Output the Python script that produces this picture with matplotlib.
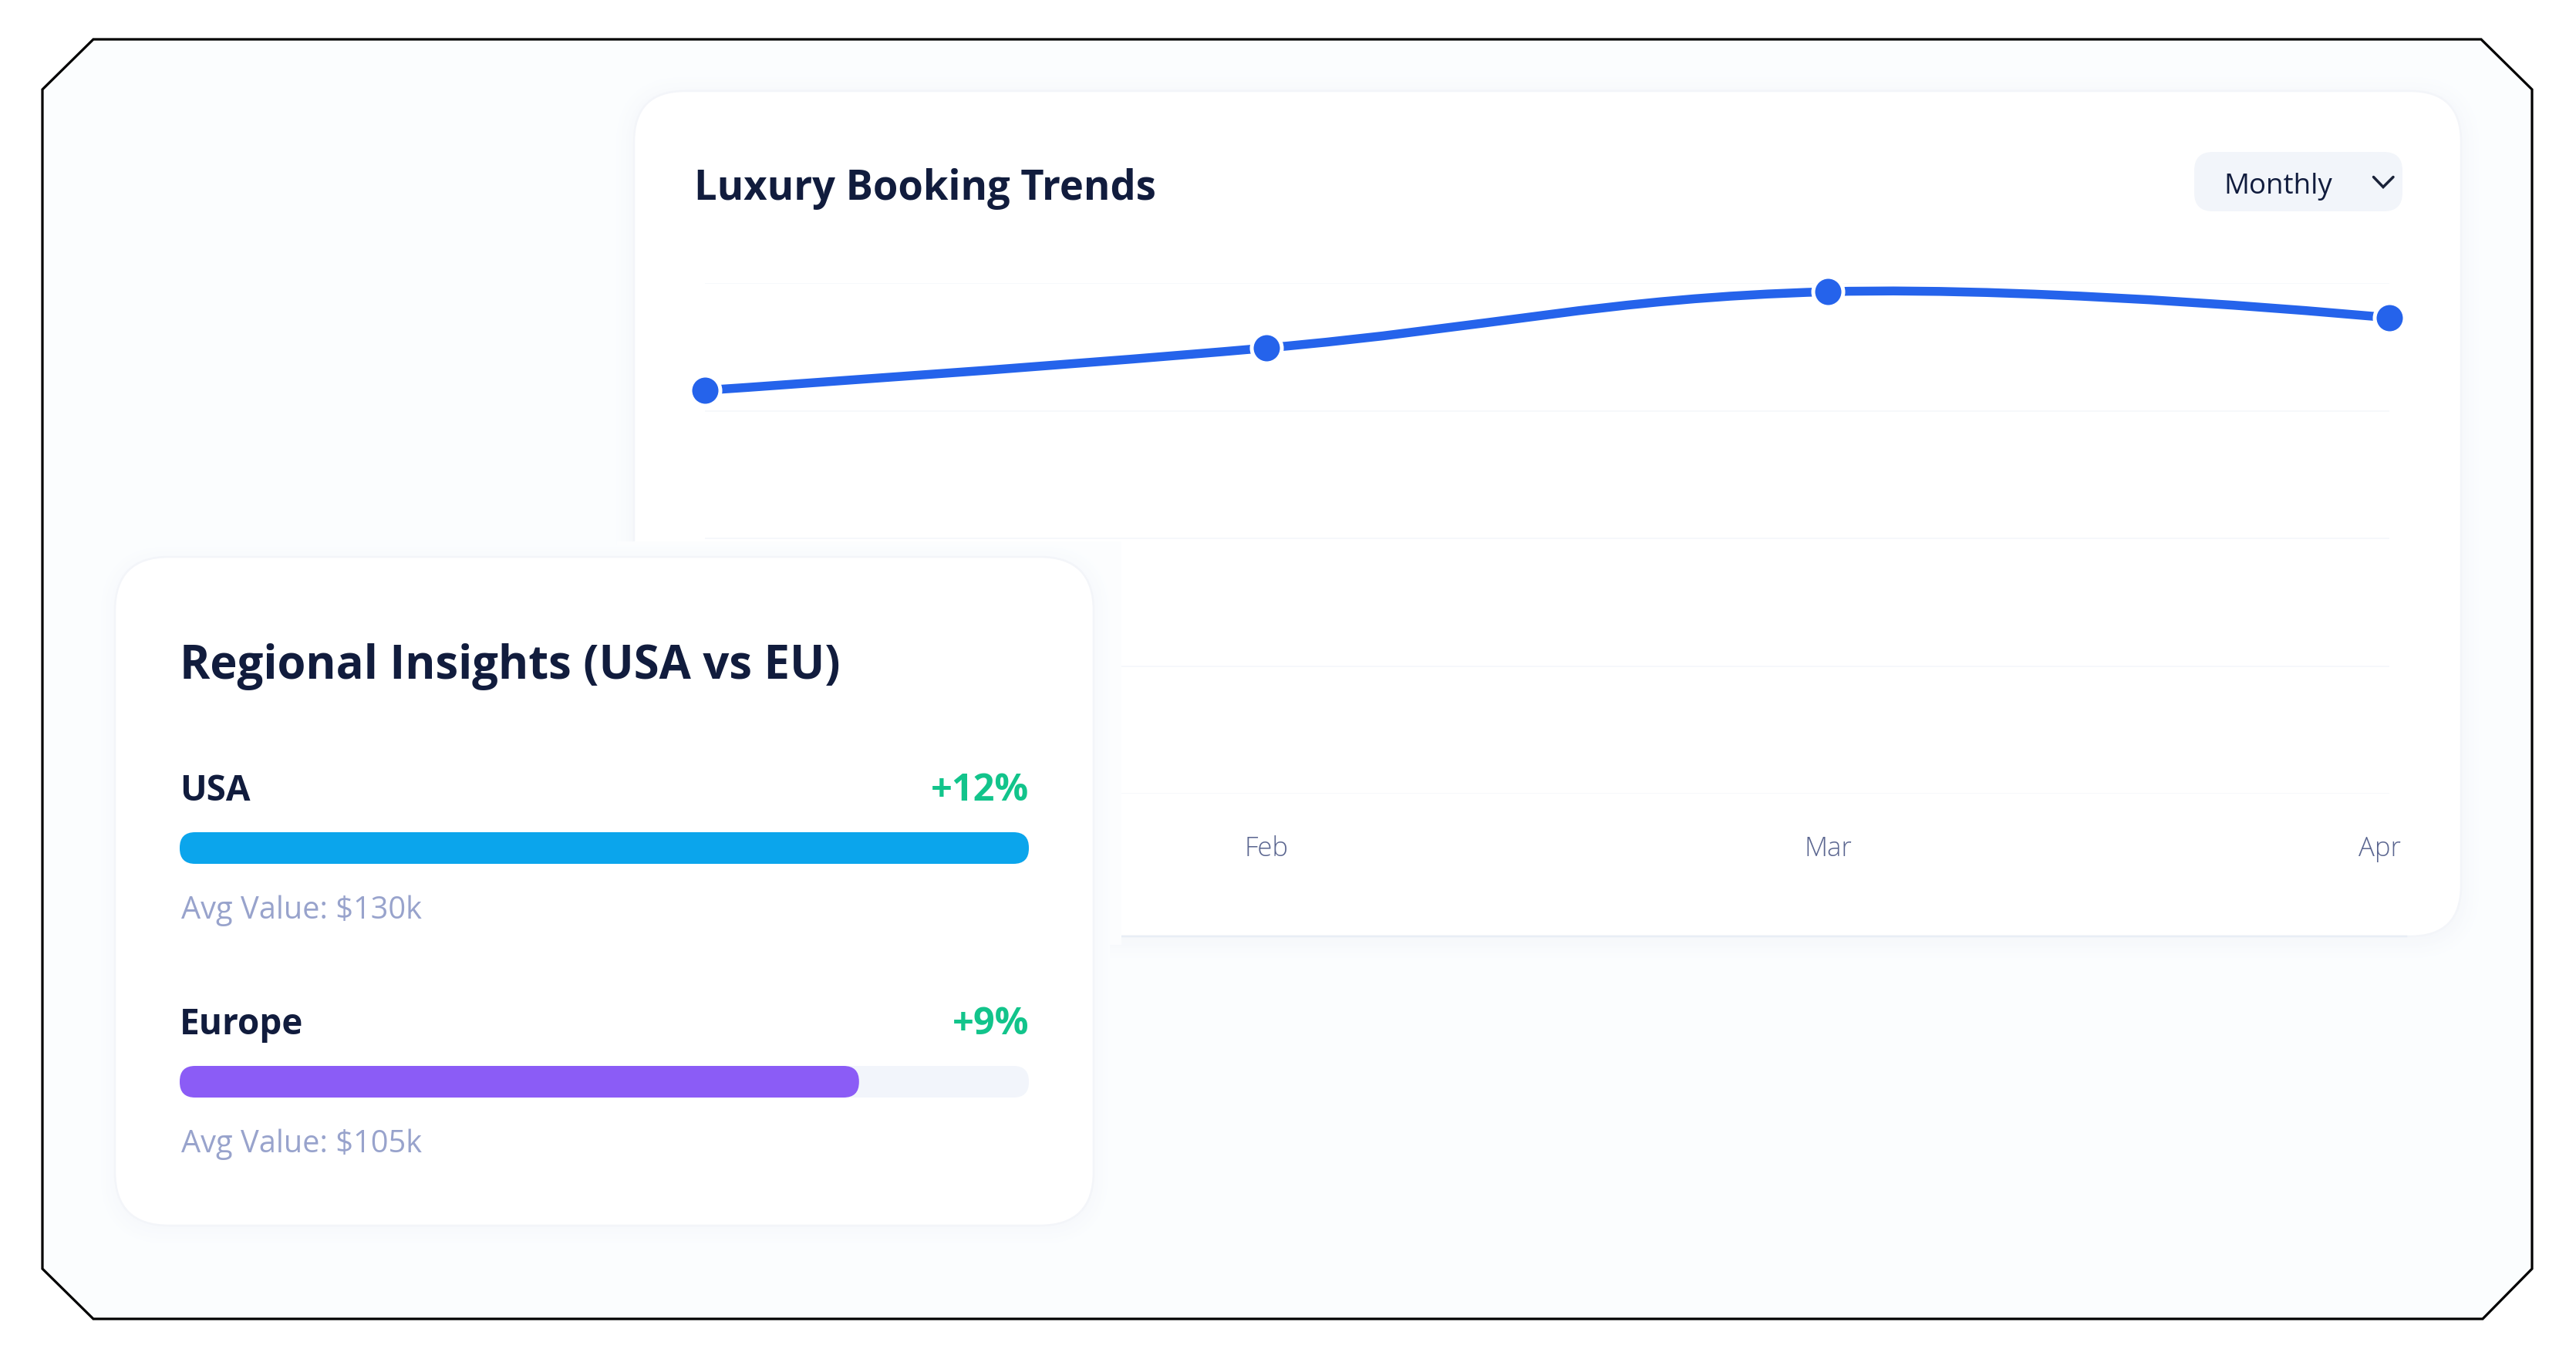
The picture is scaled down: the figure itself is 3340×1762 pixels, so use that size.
import matplotlib
matplotlib.use("Agg")
import matplotlib.pyplot as plt
from matplotlib.colors import to_rgb
from matplotlib.patches import FancyBboxPatch, PathPatch, Polygon, Rectangle
from matplotlib.path import Path
from matplotlib.transforms import ScaledTranslation

W, H = 3340, 1762
DPI = 100
PX = 72 / DPI  # one image pixel in points

# chart data
months = ["Jan", "Feb", "Mar", "Apr"]
bookings = [79.0, 87.3, 98.3, 93.2]
grid_levels = [0, 25, 50, 75, 100]

# regional data
regions = ["USA", "Europe"]
region_fill = [100, 80]
region_growth = ["+12%", "+9%"]
region_avg = ["Avg Value: $130k", "Avg Value: $105k"]

INK = "#111c3d"
BG = "#fbfdfe"
FONT = "Open Sans"

plt.rcParams["font.family"] = [FONT, "DejaVu Sans"]

fig = plt.figure(figsize=(W / DPI, H / DPI), dpi=DPI, facecolor="white")


def pixel_axes(z):
    ax = fig.add_axes([0, 0, 1, 1], zorder=z)
    ax.set_xlim(0, W)
    ax.set_ylim(H, 0)
    ax.axis("off")
    ax.patch.set_alpha(0)
    return ax


def round_box(ax, x0, y0, x1, y1, r, **kw):
    box = FancyBboxPatch((x0, y0), x1 - x0, y1 - y0,
                         boxstyle=f"round,pad=0,rounding_size={r}", **kw)
    ax.add_patch(box)
    return box


def soft_shadow(ax, x0, y0, x1, y1, r, spread=26, dy=5, inner="#f6f8fb"):
    # solid rings, low alpha layers shift hue at 8 bit
    a, b = to_rgb(BG), to_rgb(inner)
    steps = 8
    for i in range(steps):
        t = (i + 1) / steps
        s = spread * (1 - t)
        col = tuple(p + (q - p) * t for p, q in zip(a, b))
        round_box(ax, x0 - s, y0 - s + dy, x1 + s, y1 + s + dy, r + s, fc=col, ec="none")


back = pixel_axes(0)
frame = [(121, 51), (3217, 51), (3283, 116), (3283, 1645), (3219, 1710),
         (121, 1710), (55, 1645), (55, 116)]
back.add_patch(Polygon(frame, closed=True, fc=BG, ec="black", lw=3.2 * PX,
                       joinstyle="miter"))

# main chart card
soft_shadow(back, 822, 118, 3191, 1214, 66)
round_box(back, 822, 118, 3191, 1214, 66, fc="white", ec="#f3f5f9", lw=2.5 * PX)
back.plot([1000, 3120], [1214, 1214], color="#e8eef5", lw=2.5 * PX)
back.text(900, 259, "Luxury Booking Trends", fontsize=37.8, fontweight="bold",
          color=INK, ha="left", va="baseline")

# dropdown
round_box(back, 2845, 197, 3115, 274, 24, fc="#f2f5fa", ec="none")
back.text(2883, 251, "Monthly", fontsize=26.4, color=INK, ha="left", va="baseline")
back.plot([3077.5, 3090, 3103], [229.5, 242.5, 229.5], color="#1a2238",
          lw=3.5 * PX, solid_joinstyle="miter", solid_capstyle="round")

# line chart on its own axes
L, R, T, B = 914, 3098, 367, 1029
ax = fig.add_axes([L / W, 1 - B / H, (R - L) / W, (B - T) / H], zorder=1)
ax.patch.set_alpha(0)
ax.set_xlim(0, len(months) - 1)
ax.set_ylim(0, 100)
for s in ax.spines.values():
    s.set_visible(False)
ax.set_yticks(grid_levels)
ax.set_xticks(range(len(months)))
ax.set_xticklabels(months, fontsize=25, fontweight="light", color="#5b6690")
ax.tick_params(length=0, labelleft=False, axis="both")
ax.tick_params(axis="x", pad=54 * PX)
ax.grid(axis="y", color="#f6f8fb", lw=2 * PX)
ax.set_axisbelow(True)
last = ax.get_xticklabels()[-1]
last.set_transform(last.get_transform() + ScaledTranslation(-12 / DPI, 0, fig.dpi_scale_trans))

verts = [(0, bookings[0])]
codes = [Path.MOVETO]
n = len(bookings)
for i in range(n - 1):
    prev_y = bookings[max(i - 1, 0)]
    next_y = bookings[min(i + 2, n - 1)]
    k0 = 0.4 if i > 0 else 0.0
    k1 = 0.4 if i + 2 < n else 0.0
    verts += [(i + 0.4 if i > 0 else i, bookings[i] + 0.2 * (bookings[i + 1] - prev_y) * (k0 > 0)),
              (i + 0.6 if i + 2 < n else i + 1, bookings[i + 1] - 0.2 * (next_y - bookings[i]) * (k1 > 0)),
              (i + 1, bookings[i + 1])]
    codes += [Path.CURVE4] * 3
ax.add_patch(PathPatch(Path(verts, codes), fc="none", ec="#2563eb", lw=11.5 * PX,
                       capstyle="round", clip_on=False))
ax.plot(range(n), bookings, "o", ms=39 * PX, mfc="#2563eb", mec="white",
        mew=5 * PX, clip_on=False, ls="none")

# regional card sits over the chart
top = pixel_axes(2)
top.add_patch(Rectangle((800, 702), 654, 523, fc="#fcfdfe", ec="none"))
soft_shadow(top, 149, 722, 1418, 1589, 70, spread=24, inner="#f7f9fc")
round_box(top, 149, 722, 1418, 1589, 70, fc="white", ec="#f3f5f9", lw=2.5 * PX)
top.text(233, 880, "Regional Insights (USA vs EU)", fontsize=43, fontweight="bold",
         color=INK, ha="left", va="baseline")

BAR_L, BAR_R = 233, 1334
TEXT_L = 235
row_y = [1038, 1341]
bar_colors = ["#0ba5ec", "#8b5cf6"]
for i, name in enumerate(regions):
    y = row_y[i]
    top.text(BAR_L, y, name, fontsize=33, fontweight="bold", color=INK, va="baseline")
    top.text(BAR_R, y, region_growth[i], fontsize=35, fontweight="bold",
             color="#12c48b", ha="right", va="baseline")
    round_box(top, BAR_L, y + 41, BAR_R, y + 82, 20, fc="#f2f5fb", ec="none")
    bar_r = BAR_L + (BAR_R - BAR_L) * region_fill[i] / 100
    round_box(top, BAR_L, y + 41, bar_r, y + 82, 20, fc=bar_colors[i], ec="none")
    top.text(TEXT_L, y + 153, region_avg[i], fontsize=28.6, color="#98a3cc", va="baseline")

fig.savefig("out.png", dpi=DPI, facecolor="white")
